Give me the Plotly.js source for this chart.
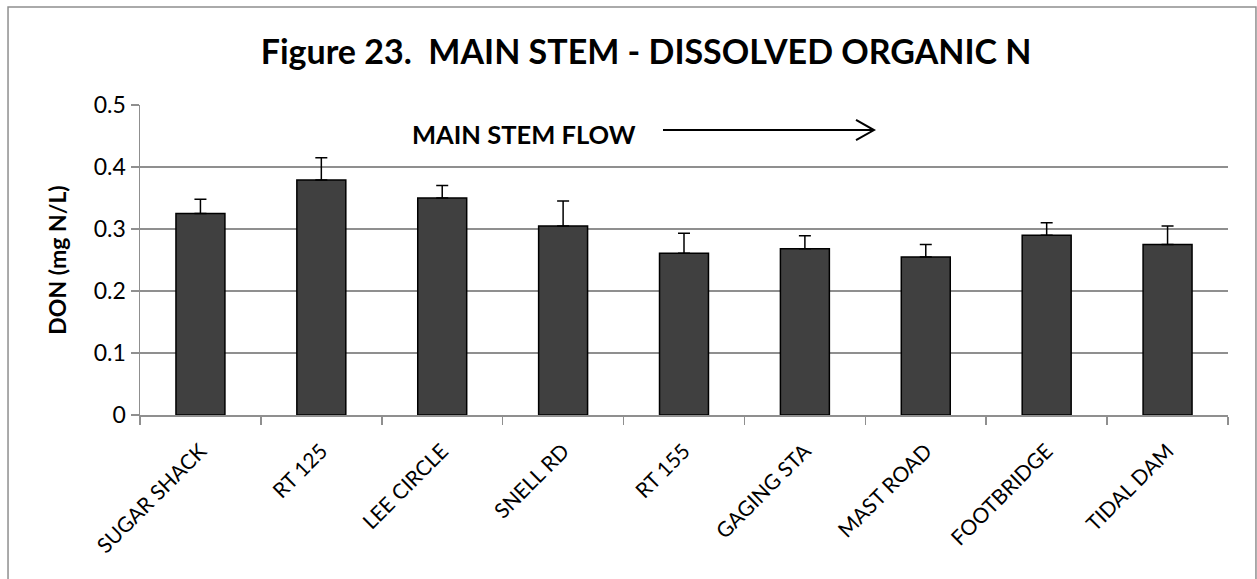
<!DOCTYPE html>
<html>
<head>
<meta charset="utf-8">
<script src="https://cdn.plot.ly/plotly-3.0.1.min.js"></script>
<style>
  html, body { margin: 0; padding: 0; background: #fff; }
  #chart { width: 1257px; height: 579px; }
</style>
</head>
<body>
<div id="chart"></div>
<script>
const sites = ["SUGAR SHACK", "RT 125", "LEE CIRCLE", "SNELL RD", "RT 155", "GAGING STA", "MAST ROAD", "FOOTBRIDGE", "TIDAL DAM"];
const donMean = [0.325, 0.379, 0.350, 0.305, 0.261, 0.268, 0.255, 0.290, 0.275];
const donErr = [0.023, 0.036, 0.020, 0.040, 0.032, 0.021, 0.020, 0.020, 0.030];
const yTicks = [0, 0.1, 0.2, 0.3, 0.4, 0.5];
const yTickText = ["0", "0.1", "0.2", "0.3", "0.4", "0.5"];

const FONT = "Lato, 'Open Sans', sans-serif";
const GRID = "#8f8f8f";

const trace = {
  type: "bar",
  x: sites,
  y: donMean,
  marker: { color: "#404040", line: { color: "#000000", width: 1.5 } },
  error_y: {
    type: "data",
    symmetric: false,
    array: donErr,
    arrayminus: donErr.map(() => 0),
    color: "#000000",
    thickness: 1.5,
    width: 6
  },
  hoverinfo: "x+y"
};

const layout = {
  width: 1257,
  height: 579,
  margin: { l: 140, r: 29, t: 105, b: 164 },
  paper_bgcolor: "#ffffff",
  plot_bgcolor: "#ffffff",
  font: { family: FONT, color: "#000000", size: 21 },
  showlegend: false,
  bargap: 0.595,
  title: {
    text: "<b>Figure 23.  MAIN STEM - DISSOLVED ORGANIC N</b>",
    font: { family: FONT, size: 34, color: "#000000" },
    x: 0.514, xanchor: "center",
    y: 0.91, yanchor: "middle", yref: "container"
  },
  xaxis: {
    type: "category",
    tickangle: -45,
    tickfont: { family: FONT, size: 21 },
    ticklabelstandoff: 14,
    showline: true, linecolor: GRID, linewidth: 1.5,
    ticks: "outside", tickson: "boundaries", ticklen: 8, tickcolor: GRID, tickwidth: 1.5,
    showgrid: false,
    zeroline: false
  },
  yaxis: {
    range: [0, 0.5],
    tickvals: yTicks,
    ticktext: yTickText,
    tickfont: { family: FONT, size: 23 },
    showline: true, linecolor: GRID, linewidth: 1.5,
    ticks: "outside", ticklen: 8, tickcolor: GRID, tickwidth: 1.5,
    showgrid: true, gridcolor: GRID, gridwidth: 1.5,
    zeroline: false,
    title: { text: "<b>DON (mg N/L)</b>", font: { family: FONT, size: 23 }, standoff: 20 }
  },
  annotations: [
    {
      text: "<b>MAIN STEM FLOW</b>",
      xref: "paper", yref: "paper",
      x: 0.353, y: 0.906, xanchor: "center", yanchor: "middle",
      showarrow: false,
      font: { family: FONT, size: 25.5, color: "#000000" }
    }
  ],
  shapes: [
    {
      type: "rect", xref: "paper", yref: "paper",
      x0: -0.1213, x1: 1.0257, y0: -0.7, y1: 1.316,
      line: { color: GRID, width: 1.5 }, fillcolor: "rgba(0,0,0,0)", layer: "below"
    },
    {
      type: "line", xref: "paper", yref: "paper",
      x0: 0.4807, x1: 0.6746, y0: 0.919, y1: 0.919,
      line: { color: "#000000", width: 2 }
    },
    {
      type: "path", xref: "paper", yref: "paper",
      path: "M 0.6581 0.952 L 0.6746 0.919 L 0.6581 0.887",
      line: { color: "#000000", width: 2 }
    }
  ]
};

Plotly.newPlot("chart", [trace], layout, { displayModeBar: false, staticPlot: true });
</script>
</body>
</html>
